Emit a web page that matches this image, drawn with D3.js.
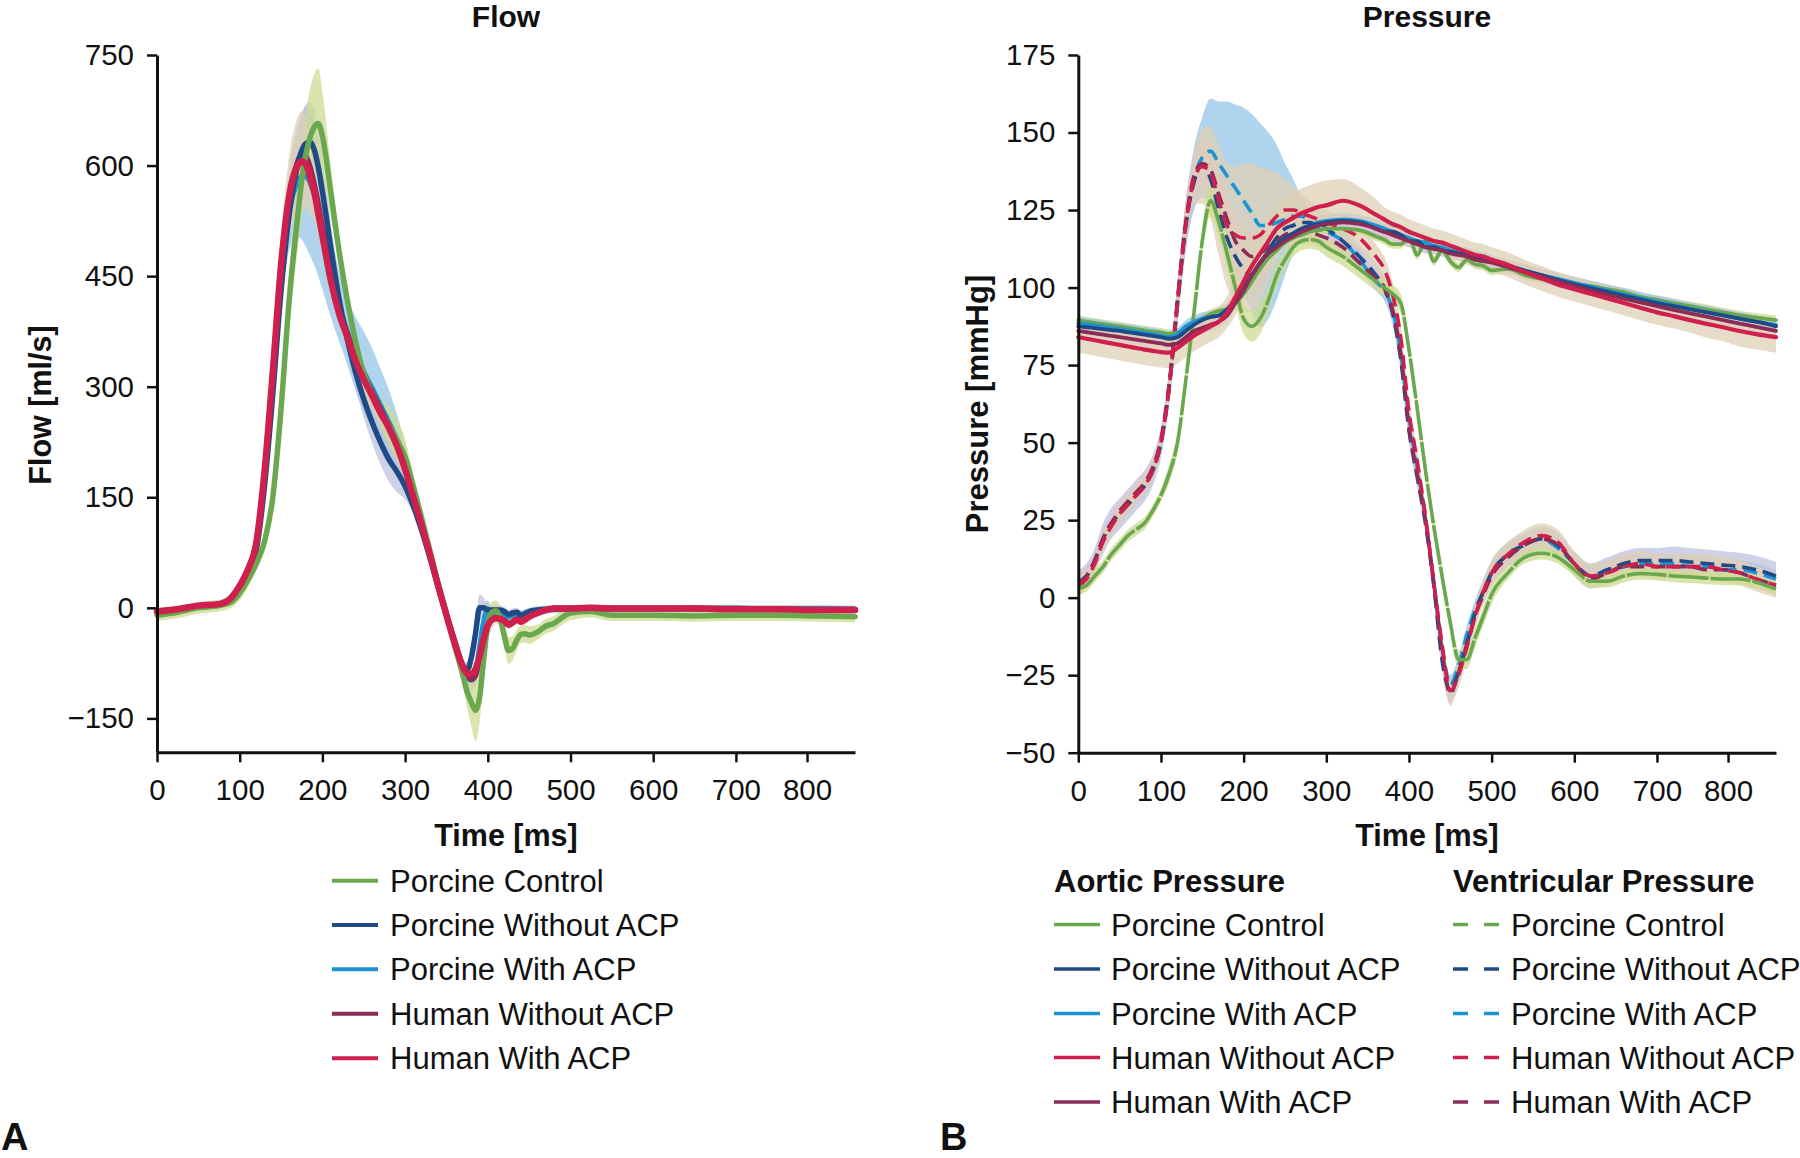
<!DOCTYPE html>
<html><head><meta charset="utf-8">
<script src="https://cdn.jsdelivr.net/npm/d3@7"></script>
<style>
body{margin:0;background:#fff;}
svg{display:block;font-family:"Liberation Sans",Arial,Helvetica,sans-serif;}
</style></head><body>
<svg id="chart" width="1800" height="1158"></svg>
<script>
// ---------------- DATA ----------------
const seriesNames = ["Porcine Control","Porcine Without ACP","Porcine With ACP","Human Without ACP","Human With ACP"];
const xTickValues = [0,100,200,300,400,500,600,700,786];
const xTickLabels = ["0","100","200","300","400","500","600","700","800"];
const flowTickValues = [-150,0,150,300,450,600,750];
const pressureTickValues = [-50,-25,0,25,50,75,100,125,150,175];

// Flow [ml/s] — mean curves
const flowTime = [0,25,50,75,90, 100,110,120,130,140, 150,160,170,175,180, 185,190,195,200,210, 220,230,240,250,260, 270,280,290,300,310, 320,330,340,350,360, 370,375,380,385,390, 395,400,405,410,415, 420,425,430,435,440, 445,450,460,470,480, 490,500,525,550,600, 650,700,750,800,844];
const flowPorcineControl = [-10,-6,0,3,8, 20,38,60,90,150, 270,420,530,580,615, 638,652,657,640,565, 485,418,362,318,290, 266,248,228,205,165, 122,78,32,-10,-52, -92,-114,-128,-139,-122, -70,-22,-6,-4,-14, -38,-58,-55,-44,-36, -35,-37,-33,-25,-21, -13,-7,-5,-10,-10, -11,-10,-10,-11,-12];
const flowPorcineWithout = [-6,-3,2,5,12, 25,45,78,165,290, 430,535,600,620,630, 632,622,598,565,490, 420,365,320,283,252, 225,202,185,165,138, 105,68,28,-10,-45, -80,-84,-68,-36,0, 0,-3,-3,-3,-3, -5,-9,-7,-6,-10, -8,-5,-3,-2,-1, -1,-1,-1,-1,-1, -1,-1,-2,-2,-2];
const flowPorcineWith = [-5,-2,2,5,13, 28,50,85,175,300, 445,540,578,585,585, 578,562,540,512,455, 410,375,345,320,298, 275,252,228,196,155, 114,74,32,-8,-47, -82,-93,-98,-90,-55, -20,-2,-8,-4,-6, -8,-12,-10,-8,-10, -8,-6,-4,-3,-2, -2,-1,-1,-1,-1, -1,-1,-2,-2,-3];
const flowHumanWithout = [-5,-2,3,5,14, 30,52,88,180,315, 460,555,605,615,612, 598,575,548,515,458, 408,372,340,315,293, 270,248,222,190,150, 112,72,30,-10,-48, -82,-92,-97,-92,-70, -42,-22,-14,-13,-14, -17,-21,-19,-15,-17, -14,-10,-6,-3,-1, -1,-1,0,-1,-1, -1,-2,-2,-3,-3];
const flowHumanWith = [-5,-2,3,5,14, 30,52,88,185,320, 465,560,600,606,602, 585,565,535,505,445, 400,368,335,310,288, 265,245,220,188,150, 112,72,30,-10,-48, -80,-89,-90,-84,-66, -42,-24,-16,-14,-15, -18,-23,-20,-16,-19, -16,-12,-7,-3,-1, -1,-1,0,-1,-1, -1,-2,-2,-3,-3];
// Flow — half-width of shaded band
const flowPorcineControlSd = [8,8,8,8,8, 10,10,10,12,20, 30,38,45,52,58, 65,72,75,60,35, 18,14,12,12,14, 20,26,28,24,14, 10,8,8,8,10, 15,22,32,42,35, 25,18,14,14,16, 16,18,16,14,12, 12,12,10,10,10, 10,10,8,8,8, 8,8,8,8,8];
const flowPorcineWithoutSd = [5,5,5,5,5, 5,6,8,12,18, 25,35,45,50,53, 55,55,50,45,35, 25,20,20,25,28, 30,30,28,18,10, 7,6,6,6,6, 8,10,14,16,18, 14,8,6,6,6, 6,6,6,6,6, 5,5,5,5,5, 5,5,5,5,5, 5,5,5,5,5];
const flowPorcineWithSd = [4,4,4,4,5, 5,6,8,12,20, 35,55,75,85,95, 100,97,90,80,60, 48,45,50,55,55, 50,45,35,25,14, 8,6,6,6,8, 10,12,14,18,22, 20,12,8,6,6, 6,6,6,6,6, 6,5,5,5,5, 5,5,5,5,5, 5,5,5,5,5];
const flowHumanWithoutSd = [4,4,4,4,4, 4,5,6,8,12, 18,22,25,25,22, 20,18,15,12,10, 8,8,8,8,8, 8,6,5,5,5, 5,5,5,5,5, 5,8,10,10,10, 8,6,5,5,5, 5,5,5,5,5, 4,4,4,4,4, 4,4,4,4,4, 4,4,4,4,4];
const flowHumanWithSd = [5,5,5,5,5, 5,6,8,15,25, 40,55,65,68,60, 50,40,30,25,18, 14,15,18,20,20, 15,10,8,6,5, 5,5,5,5,5, 5,6,10,14,18, 28,22,12,8,6, 6,6,5,5,5, 5,5,5,5,5, 5,5,5,5,5, 5,5,5,5,5];

// Pressure [mmHg]
const pressureTime = [0,10,20,30,40, 50,60,70,80,90, 100,110,120,130,140, 150,160,170,180,190, 200,210,220,230,240, 250,260,270,280,290, 300,320,340,360,370, 380,390,400,410,420, 430,440,450,460,470, 480,490,500,520,540, 560,580,600,620,640, 660,680,700,720,740, 760,780,800,820,844];
// Ventricular pressure (dashed)
const ventPorcineControl = [3,4,7,10,14, 17,20,22,24,28, 33,40,50,70,92, 115,128,121,111,100, 90,87.5,90,96,104, 109,113,115,115.5,115, 113,110,106,102,100, 98,95,80,61,41, 23,7,-8,-20,-20, -13,-6,1,8,13, 14.3,13,9,5.3,5.3, 7,7.8,7.5,7,6.7, 6.3,6,6,5,2.8];
const ventPorcineWithout = [5,7,12,19,24, 27,30,33,36,41, 50,68,95,120,134, 140,135,125,116,110, 106,104,106,112,116, 119,120,121,121,120, 119,115,110,104,100, 92,77,54,39,24, 4,-20,-30,-24,-15, -5,2,8,14,17, 19,17,11,7,9, 11,12,12,12,11.5, 11,10.5,10,9,7];
const ventPorcineWith = [5,7,12,19,24, 27,30,33,36,41, 50,68,95,120,135, 142,144,140,136,132, 128,124,120,120,121, 122,123,123,121,119, 118,115,109,102,99, 93,79,58,42,26, 5,-16,-28,-22,-12, -4,2,8,14,17, 19,16,11,7,9, 10,11,11,11,10, 10,9,9,8,6];
const ventHumanWithout = [4,6,11,18,23, 27,30,33,36,41, 50,68,95,120,135, 139,137,128,120,117, 116,116,117,120,123, 125,125,124,123,122, 121,119,116,110,106, 98,84,60,44,26, 5,-15,-30,-25,-16, -6,2,8,14,18, 20,18,11,7,8, 10,11,10,10,10, 10,9,8,6,4];
const ventHumanWith = [5,7,12,19,24, 28,31,34,37,42, 51,69,96,121,136, 140,138,130,122,115, 112,110,111,113,115, 117,118,118,118,117, 116,113,108,103,100, 93,79,55,40,25, 5,-17,-31,-24,-15, -6,1,7,13,17, 19,17,11,6,8, 10,10,10,10,10, 9,9,8,6,4];
// Aortic pressure (solid)
const aortPorcineControl = [89.5,89,88.6,88.2,87.8, 87.5,87,86.6,86.2,85.8, 85.5,85,85.5,86.5,88, 90,91.5,92.5,93,95, 98,102,106,109.5,112, 114.5,116,117,118,118.5, 119,119,118.5,116.5,115.5, 114,114,116,110.5,115, 108.5,112,108.5,106.5,109, 107.5,107,105.5,106,104, 102.8,102,101,100.5,99.5, 98.5,97,96,95,94, 93,92,91,90.3,89.5];
const aortPorcineWithout = [87.5,87.2,86.9,86.6,86.3, 86,85.6,85.2,84.8,84.4, 84,83.5,84,86,88, 89.5,90.5,91,93,96, 100,104,108,111.5,114, 116,117.5,119,120,120.5, 121,121.5,121,119,118, 118,117,115,115,113, 113,112,111.5,111,110.5, 109.5,109,108.3,107,105.5, 104,102.5,101,99.8,98.6, 97.4,96.2,95,94,93, 92,91,90,89,87.5];
const aortPorcineWith = [88.5,88.2,87.8,87.4,87, 86.6,86.2,85.8,85.4,85, 84.5,84,85,87.5,89, 90,90.5,91,93,96, 100,104,108,111.5,114, 116,117.5,119,120,121, 121.5,122,121.5,120,119, 118,117,116,115,114.5, 113.5,113,112,111.5,111, 110,109.5,108.5,107,105.5, 104,102.8,101.5,100.3,99, 97.8,96.6,95.4,94.3,93.2, 92.1,91,90,89,88];
const aortHumanWithout = [84,83.5,83,82.5,82, 81.5,81,80.5,80,79.6, 79.2,79,80.5,82.5,84.5, 86,87.5,89,92,97, 102,107,111,115,119, 121,122.5,124,125,126, 126.5,128,126.5,123.5,122, 120.5,119.5,118,117,116, 115,114.5,113.5,112.5,111.5, 110.5,110,109,107.3,105, 103,101,99.5,98,96.5, 95,93.5,92,90.8,89.5, 88.3,87.2,86,85,84];
const aortHumanWith = [86,85.6,85.2,84.8,84.4, 84,83.6,83.2,82.8,82.4, 82,81.5,82,84,86, 87,88,89,91,95, 99,104,108,111,113, 115,116.5,118,119,120, 120.5,121,120.5,119,118, 117,116,115,114,113, 112.5,112,111,110.5,110, 109,108.5,108,106.5,105, 103.5,102,100.5,99,97.7, 96.4,95.2,94,92.8,91.7, 90.6,89.5,88.4,87.3,86];
// Pressure — half-width of shaded bands
const ventPorcineControlSd = [2,2,2,2,2, 2,2,2,2,2, 2,3,3,3,4, 4,5,5,5,5, 5,5,5,4,4, 3,3,3,3,3, 3,3,3,3,3, 3,3,3,3,3, 3,3,3,3,3, 3,3,3,2,2, 2,2,2,2,2, 2,2,2,2,2, 2,2,2,2,2];
const ventPorcineWithoutSd = [4,4,4,5,5, 5,5,5,5,5, 5,6,7,8,8, 8,8,8,8,7, 7,7,7,6,6, 5,5,5,5,5, 4,4,4,4,4, 4,4,4,4,4, 4,4,4,4,4, 4,4,4,4,4, 4,4,4,4,4, 4,4,4,4.5,4.5, 4.5,4.5,4.5,4.5,4.5];
const ventPorcineWithSd = [3,3,3,3,3, 3,3,3,3,3, 3,5,7,8,10, 13,17,20,24,27, 30,32,33,30,25, 18,12,6,4,3, 3,3,3,3,3, 3,3,3,3,3, 3,3,3,3,3, 3,3,3,3,3, 3,3,3,3,3, 3,3,3,3,3, 3,3,3,3,3];
const ventHumanWithoutSd = [3,3,3,3,3, 3,3,3,3,3, 3,4,5,6,8, 12,15,18,20,22, 24,24,22,18,14, 10,8,6,5,4, 4,4,4,4,4, 4,4,4,4,4, 4,4,4,4,4, 4,4,4,4,4, 4,4,4,4,4, 4,4,4,4,4, 4,4,4,4,4];
const ventHumanWithSd = [3,3,3,3,3, 3,3,3,3,3, 3,4,5,6,7, 8,8,8,8,8, 8,8,7,6,5, 4,4,4,4,4, 3,3,3,3,3, 3,3,3,3,3, 4,4,4,3,3, 3,3,3,3,3, 3,3,3,3,3, 3,3,3,3,3, 3,3,3,3,3];
const aortPorcineControlSd = [1.5,1.5,1.5,1.5,1.5, 1.5,1.5,1.5,1.5,1.5, 1.5,1.5,1.5,1.5,1.5, 1.5,1.5,1.5,1.5,1.5, 1.5,1.5,1.5,1.5,1.5, 1.5,1.5,1.5,1.5,1.5, 1.5,1.5,1.5,1.5,1.5, 1.5,1.5,1.5,1.5,1.5, 1.5,1.5,1.5,1.5,1.5, 1.5,1.5,1.5,1.5,1.5, 1.5,1.5,1.5,1.5,1.5, 1.5,1.5,1.5,1.5,1.5, 1.5,1.5,1.5,1.5,1.5];
const aortPorcineWithoutSd = [2,2,2,2,2, 2,2,2,2,2, 2,2,2,2,2, 2,2,2,2,2, 2,2,2,2,2, 2,2,2,2,2, 2,2,2,2,2, 2,2,2,2,2, 2,2,2,2,2, 2,2,2,2,2, 2,2,2,2,2, 2,2,2,2,2, 2,2,2,2,2];
const aortPorcineWithSd = [2,2,2,2,2, 2,2,2,2,2, 2,2,2,2,2, 2,2,2,2,2, 2,2,2,2,2, 2,2,2,2,2, 2,2,2,2,2, 2,2,2,2,2, 2,2,2,2,2, 2,2,2,2,2, 2,2,2,2,2, 2,2,2,2,2, 2,2,2,2,2];
const aortHumanWithoutSd = [5,5,5,5,5, 5,5,5,5,5, 5,5,5,5,5, 5,5,5,5,6, 6,6,7,8,8, 8,8,8,8,8, 8,7,6,5,4, 4,4,4,4,4, 4,4,4,4,4, 4,4,4,4,4, 4,4,4,4,4, 4,4,4,4,4, 4.5,4.5,5,5,5];
const aortHumanWithSd = [2,2,2,2,2, 2,2,2,2,2, 2,2,2,2,2, 2,2,2,2,2, 2,2,2,2,2, 2,2,2,2,2, 2,2,2,2,2, 2,2,2,2,2, 2,2,2,2,2, 2,2,2,2,2, 2,2,2,2,2, 2,2,2,2,2, 2,2,2,2,2];

// ---------------- STYLE ----------------
const C = {green:"#6aa84f", dark:"#1f4a86", light:"#1c93d2", maroon:"#8a2c55", red:"#cf1f4c"};
const B = {green:"#cddc92", dark:"#bfc2df", light:"#96c6e8", maroon:"#e4c2d6", red:"#ddd0b6"};
const FONT = '"Liberation Sans", Arial, Helvetica, sans-serif';

const svg = d3.select("#chart");
svg.append("rect").attr("width",1800).attr("height",1158).attr("fill","#fff");

function axes(g, x, y, yTicks) {
  const ax = g.append("g").attr("transform", `translate(0,${y.range()[0]})`)
    .call(d3.axisBottom(x).tickValues(xTickValues).tickFormat((d,i)=>xTickLabels[i]).tickSize(10).tickSizeOuter(0).tickPadding(17));
  const ay = g.append("g").attr("transform", `translate(${x.range()[0]},0)`)
    .call(d3.axisLeft(y).tickValues(yTicks).tickSize(10).tickSizeOuter(0).tickPadding(13));
  [ax, ay].forEach(a => {
    a.select(".domain").attr("stroke","#111").attr("stroke-width",3);
    a.selectAll(".tick line").attr("stroke","#111").attr("stroke-width",2.5);
    a.selectAll(".tick text").attr("font-family",FONT).attr("font-size",29.5).attr("fill","#111");
  });
}

function band(g, x, y, t, m, s, color) {
  const data = t.map((d,i)=>({t:d, lo:m[i]-s[i], hi:m[i]+s[i]}));
  g.append("path").datum(data)
    .attr("d", d3.area().curve(d3.curveMonotoneX).x(d=>x(d.t)).y0(d=>y(d.lo)).y1(d=>y(d.hi)))
    .attr("fill", color).attr("fill-opacity",0.75);
}
function line(g, x, y, t, m, color, w, dash) {
  const data = t.map((d,i)=>({t:d, v:m[i]}));
  g.append("path").datum(data)
    .attr("d", d3.line().curve(d3.curveMonotoneX).x(d=>x(d.t)).y(d=>y(d.v)))
    .attr("fill","none").attr("stroke",color).attr("stroke-width",w)
    .attr("stroke-linejoin","round").attr("stroke-linecap", dash ? "butt" : "round")
    .attr("stroke-dasharray", dash || null);
}

// ---------------- PANEL A: FLOW ----------------
const xF = d3.scaleLinear().domain([0,844]).range([157,855]);
const yF = d3.scaleLinear().domain([-196,750]).range([752.3,55]);
const gF = svg.append("g");
const flowSeries = [
  {m:flowPorcineWith, s:flowPorcineWithSd, c:"light"},
  {m:flowHumanWithout, s:flowHumanWithoutSd, c:"maroon"},
  {m:flowPorcineWithout, s:flowPorcineWithoutSd, c:"dark"},
  {m:flowPorcineControl, s:flowPorcineControlSd, c:"green"},
  {m:flowHumanWith, s:flowHumanWithSd, c:"red"}
];
flowSeries.forEach(d => band(gF, xF, yF, flowTime, d.m, d.s, B[d.c]));
flowSeries.forEach(d => line(gF, xF, yF, flowTime, d.m, C[d.c], d.c==="red" ? 6.5 : 5.5, null));
axes(gF, xF, yF, flowTickValues);

// ---------------- PANEL B: PRESSURE ----------------
const xP = d3.scaleLinear().domain([0,844]).range([1078.3,1776]);
const yP = d3.scaleLinear().domain([-50,175]).range([752.7,55]);
const gP = svg.append("g");
const ventSeries = [
  {m:ventPorcineWith, s:ventPorcineWithSd, c:"light"},
  {m:ventPorcineWithout, s:ventPorcineWithoutSd, c:"dark"},
  {m:ventHumanWith, s:ventHumanWithSd, c:"maroon"},
  {m:ventHumanWithout, s:ventHumanWithoutSd, c:"red"},
  {m:ventPorcineControl, s:ventPorcineControlSd, c:"green"}
];
const aortSeries = [
  {m:aortPorcineControl, s:aortPorcineControlSd, c:"green"},
  {m:aortPorcineWith, s:aortPorcineWithSd, c:"light"},
  {m:aortPorcineWithout, s:aortPorcineWithoutSd, c:"dark"},
  {m:aortHumanWith, s:aortHumanWithSd, c:"maroon"},
  {m:aortHumanWithout, s:aortHumanWithoutSd, c:"red"}
];
ventSeries.forEach(d => band(gP, xP, yP, pressureTime, d.m, d.s, B[d.c]));
aortSeries.forEach(d => band(gP, xP, yP, pressureTime, d.m, d.s, B[d.c]));
// the control ventricular trace reads as an almost continuous line in the figure
ventSeries.forEach(d => line(gP, xP, yP, pressureTime, d.m, C[d.c], 3.6, d.c==="green" ? "40,2" : "14,7"));
aortSeries.forEach(d => line(gP, xP, yP, pressureTime, d.m, C[d.c], d.c==="red" ? 4.2 : 3.8, null));
axes(gP, xP, yP, pressureTickValues);

// ---------------- TEXT ----------------
function txt(x, y, s, size, weight, anchor, rot) {
  const t = svg.append("text").attr("font-family",FONT).attr("font-size",size)
    .attr("font-weight",weight).attr("fill","#111").attr("text-anchor",anchor||"start").text(s);
  if (rot) t.attr("transform",`translate(${x},${y}) rotate(${rot})`); else t.attr("x",x).attr("y",y);
  return t;
}
txt(506, 26.5, "Flow", 30, "bold", "middle");
txt(1427, 26.5, "Pressure", 30, "bold", "middle");
txt(506, 845.5, "Time [ms]", 30.5, "bold", "middle");
txt(1427, 845.5, "Time [ms]", 30.5, "bold", "middle");
txt(51, 405, "Flow [ml/s]", 30.5, "bold", "middle", -90);
txt(987.5, 404, "Pressure [mmHg]", 31, "bold", "middle", -90);
txt(1, 1150, "A", 38, "bold");
txt(940, 1150, "B", 38, "bold");

// Legend A
const legAColors = ["green","dark","light","maroon","red"];
const legARows = [880.7,925,969.3,1013.7,1058.3];
seriesNames.forEach((n,i) => {
  svg.append("line").attr("x1",332).attr("x2",378).attr("y1",legARows[i]).attr("y2",legARows[i])
    .attr("stroke",C[legAColors[i]]).attr("stroke-width",4);
  txt(390, legARows[i]+11, n, 31, "normal");
});
// Legend B
const legBColors = ["green","dark","light","red","maroon"];
const legBRows = [924.6,969,1013.5,1057.6,1102];
txt(1054, 891.5, "Aortic Pressure", 31, "bold");
txt(1453, 891.5, "Ventricular Pressure", 31, "bold");
seriesNames.forEach((n,i) => {
  svg.append("line").attr("x1",1054).attr("x2",1100).attr("y1",legBRows[i]).attr("y2",legBRows[i])
    .attr("stroke",C[legBColors[i]]).attr("stroke-width",3.5);
  txt(1111, legBRows[i]+11, n, 31, "normal");
  svg.append("line").attr("x1",1453).attr("x2",1499).attr("y1",legBRows[i]).attr("y2",legBRows[i])
    .attr("stroke",C[legBColors[i]]).attr("stroke-width",3.5).attr("stroke-dasharray","15,16");
  txt(1511, legBRows[i]+11, n, 31, "normal");
});
</script>
</body></html>
